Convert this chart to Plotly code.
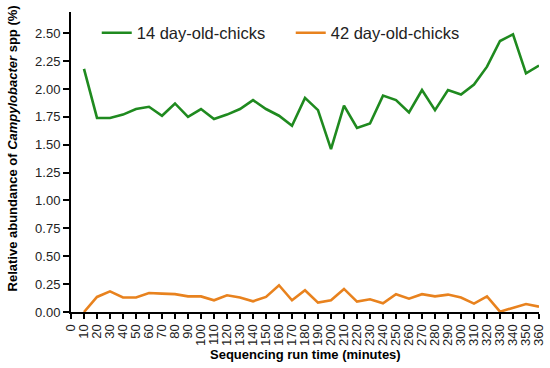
import plotly.graph_objects as go

time_min = [10, 20, 30, 40, 50, 60, 70, 80, 90, 100, 110, 120, 130, 140, 150, 160, 170, 180,
            190, 200, 210, 220, 230, 240, 250, 260, 270, 280, 290, 300, 310, 320, 330, 340, 350, 360]
chicks_14 = [2.18, 1.74, 1.74, 1.77, 1.82, 1.84, 1.76, 1.87, 1.75, 1.82, 1.73, 1.77, 1.82, 1.90,
             1.82, 1.76, 1.67, 1.92, 1.81, 1.46, 1.85, 1.65, 1.69, 1.94, 1.90, 1.79, 1.99, 1.81,
             1.99, 1.95, 2.04, 2.20, 2.43, 2.49, 2.14, 2.21]
chicks_42 = [0.00, 0.135, 0.185, 0.13, 0.13, 0.17, 0.165, 0.16, 0.14, 0.14, 0.105, 0.15, 0.13,
             0.096, 0.135, 0.24, 0.105, 0.195, 0.084, 0.105, 0.207, 0.093, 0.114, 0.078, 0.16,
             0.12, 0.16, 0.14, 0.156, 0.13, 0.075, 0.14, 0.003, 0.04, 0.072, 0.048]
x_ticks = list(range(0, 361, 10))
y_ticks = [0.0, 0.25, 0.5, 0.75, 1.0, 1.25, 1.5, 1.75, 2.0, 2.25, 2.5]
x_title = "<b>Sequencing run time (minutes)</b>"
y_title = "<b>Relative abundance of <i>Campylobacter</i> spp (%)</b>"

FONT = "Arial, Liberation Sans, sans-serif"

fig = go.Figure()
fig.add_trace(go.Scatter(x=time_min, y=chicks_14, mode="lines", name="14 day-old-chicks",
                         line=dict(color="#1f8a1f", width=2.6)))
fig.add_trace(go.Scatter(x=time_min, y=chicks_42, mode="lines", name="42 day-old-chicks",
                         line=dict(color="#e8821e", width=2.6)))

fig.update_layout(
    width=550, height=368,
    margin=dict(l=71, r=11, t=12, b=56),
    paper_bgcolor="white", plot_bgcolor="white",
    font=dict(family=FONT, color="black"),
    showlegend=True,
    legend=dict(orientation="h", x=0.055, y=0.93, xanchor="left", yanchor="middle",
                font=dict(size=16.5, color="#222"), entrywidth=149, bgcolor="rgba(0,0,0,0)"),
    xaxis=dict(range=[0, 360], tickvals=x_ticks, ticktext=[str(v) for v in x_ticks],
               tickangle=-90, tickfont=dict(size=13, color="#222"), automargin=False,
               showline=True, linecolor="black", linewidth=2,
               ticks="outside", ticklen=5, tickwidth=2, tickcolor="black",
               showgrid=False, zeroline=False),
    yaxis=dict(range=[0, 2.69], tickvals=y_ticks, ticktext=[f"{v:.2f}" for v in y_ticks],
               tickfont=dict(size=13, color="#222"), automargin=False,
               showline=True, linecolor="black", linewidth=2,
               ticks="outside", ticklen=6, tickwidth=2, tickcolor="black",
               showgrid=False, zeroline=False),
    annotations=[
        dict(text=x_title, xref="paper", yref="paper", x=0.5, y=-0.143,
             xanchor="center", yanchor="middle", showarrow=False, font=dict(size=13)),
        dict(text=y_title, xref="paper", yref="paper", x=-0.124, y=0.545, textangle=-90,
             xanchor="center", yanchor="middle", showarrow=False, font=dict(size=13)),
    ],
)

fig.write_html("out.html", config={"displayModeBar": False},
               post_script="document.body.style.margin='0px';")
